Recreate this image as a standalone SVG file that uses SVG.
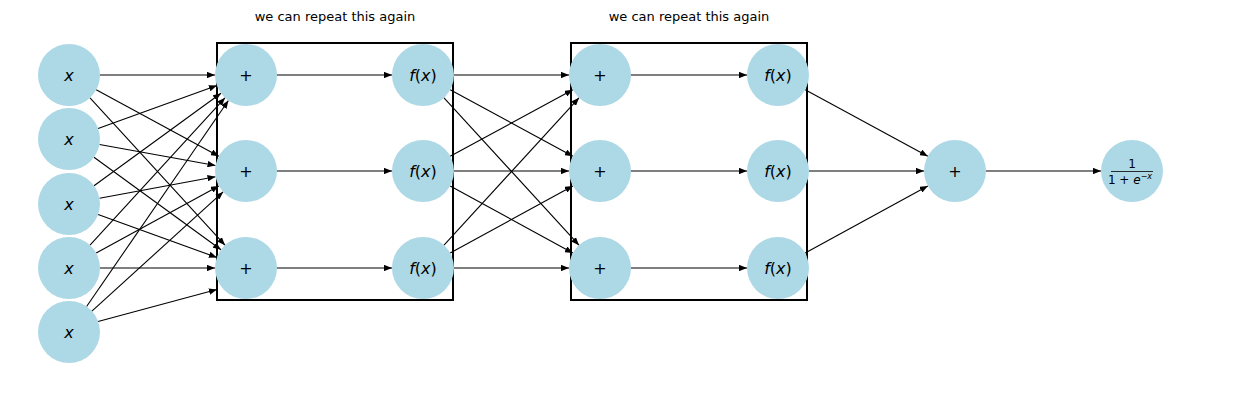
<svg xmlns="http://www.w3.org/2000/svg" width="1260" height="406" viewBox="0 0 1260 406">
<style>
.n{fill:#add8e6}
.t{font-family:"DejaVu Sans",sans-serif;font-size:16px;text-anchor:middle;fill:#000}
.i{font-style:italic}
.b{fill:none;stroke:#000;stroke-width:2}
.l{font-family:"DejaVu Sans",sans-serif;font-size:13px;text-anchor:middle}
#edges line{stroke:#000;stroke-width:1.1;marker-end:url(#a)}
</style>
<defs><marker id="a" viewBox="0 0 10 8" refX="10" refY="4" markerWidth="8" markerHeight="6.4" markerUnits="userSpaceOnUse" orient="auto"><path d="M0,0L10,4L0,8z"/></marker></defs>
<rect width="1260" height="406" fill="#fff"/>
<rect class="b" x="217" y="43" width="236" height="257"/>
<rect class="b" x="571" y="43" width="236" height="257"/>
<text class="l" x="335" y="21">we can repeat this again</text>
<text class="l" x="689" y="21">we can repeat this again</text>
<g id="edges">
<line x1="100" y1="75" x2="215" y2="75"/>
<line x1="96.2" y1="89.8" x2="218.8" y2="156.2"/>
<line x1="90" y1="97.8" x2="225" y2="245.2"/>
<line x1="98.1" y1="128.5" x2="216.9" y2="85.5"/>
<line x1="99.5" y1="144.5" x2="215.5" y2="165.5"/>
<line x1="94" y1="157.3" x2="221" y2="249.7"/>
<line x1="94" y1="185.7" x2="221" y2="93.3"/>
<line x1="99.5" y1="198.3" x2="215.5" y2="176.7"/>
<line x1="98.1" y1="214.5" x2="216.9" y2="257.5"/>
<line x1="90" y1="245.2" x2="225" y2="97.8"/>
<line x1="96.2" y1="253.1" x2="218.8" y2="185.9"/>
<line x1="100" y1="268" x2="215" y2="268"/>
<line x1="86.6" y1="306.5" x2="228.4" y2="100.5"/>
<line x1="91.9" y1="311.1" x2="223.1" y2="191.9"/>
<line x1="98.1" y1="321.5" x2="216.9" y2="289.5"/>
<line x1="277" y1="75" x2="392" y2="75"/>
<line x1="277" y1="171" x2="392" y2="171"/>
<line x1="277" y1="268" x2="392" y2="268"/>
<line x1="454" y1="75" x2="569" y2="75"/>
<line x1="450.2" y1="89.8" x2="572.8" y2="156.2"/>
<line x1="444" y1="97.8" x2="579" y2="245.2"/>
<line x1="450.2" y1="156.2" x2="572.8" y2="89.8"/>
<line x1="454" y1="171" x2="569" y2="171"/>
<line x1="450.2" y1="185.9" x2="572.8" y2="253.1"/>
<line x1="444" y1="245.2" x2="579" y2="97.8"/>
<line x1="450.2" y1="253.1" x2="572.8" y2="185.9"/>
<line x1="454" y1="268" x2="569" y2="268"/>
<line x1="631" y1="75" x2="747" y2="75"/>
<line x1="631" y1="171" x2="747" y2="171"/>
<line x1="631" y1="268" x2="747" y2="268"/>
<line x1="805.2" y1="89.8" x2="927.8" y2="156.2"/>
<line x1="809" y1="171" x2="924" y2="171"/>
<line x1="805.2" y1="253.1" x2="927.8" y2="185.9"/>
<line x1="986" y1="171" x2="1101" y2="171"/>
</g>
<g id="x1"><circle class="n" cx="69" cy="75" r="31"/><text class="t i" x="69" y="81">x</text></g>
<g id="x2"><circle class="n" cx="69" cy="139" r="31"/><text class="t i" x="69" y="145">x</text></g>
<g id="x3"><circle class="n" cx="69" cy="204" r="31"/><text class="t i" x="69" y="210">x</text></g>
<g id="x4"><circle class="n" cx="69" cy="268" r="31"/><text class="t i" x="69" y="274">x</text></g>
<g id="x5"><circle class="n" cx="69" cy="332" r="31"/><text class="t i" x="69" y="338">x</text></g>
<g id="p1"><circle class="n" cx="246" cy="75" r="31"/><text class="t" x="246" y="81">+</text></g>
<g id="p2"><circle class="n" cx="246" cy="171" r="31"/><text class="t" x="246" y="177">+</text></g>
<g id="p3"><circle class="n" cx="246" cy="268" r="31"/><text class="t" x="246" y="274">+</text></g>
<g id="f1"><circle class="n" cx="423" cy="75" r="31"/><text class="t" x="423" y="81"><tspan class="i">f</tspan>(<tspan class="i">x</tspan>)</text></g>
<g id="f2"><circle class="n" cx="423" cy="171" r="31"/><text class="t" x="423" y="177"><tspan class="i">f</tspan>(<tspan class="i">x</tspan>)</text></g>
<g id="f3"><circle class="n" cx="423" cy="268" r="31"/><text class="t" x="423" y="274"><tspan class="i">f</tspan>(<tspan class="i">x</tspan>)</text></g>
<g id="q1"><circle class="n" cx="600" cy="75" r="31"/><text class="t" x="600" y="81">+</text></g>
<g id="q2"><circle class="n" cx="600" cy="171" r="31"/><text class="t" x="600" y="177">+</text></g>
<g id="q3"><circle class="n" cx="600" cy="268" r="31"/><text class="t" x="600" y="274">+</text></g>
<g id="g1"><circle class="n" cx="778" cy="75" r="31"/><text class="t" x="778" y="81"><tspan class="i">f</tspan>(<tspan class="i">x</tspan>)</text></g>
<g id="g2"><circle class="n" cx="778" cy="171" r="31"/><text class="t" x="778" y="177"><tspan class="i">f</tspan>(<tspan class="i">x</tspan>)</text></g>
<g id="g3"><circle class="n" cx="778" cy="268" r="31"/><text class="t" x="778" y="274"><tspan class="i">f</tspan>(<tspan class="i">x</tspan>)</text></g>
<g id="s"><circle class="n" cx="955" cy="171" r="31"/><text class="t" x="955" y="177">+</text></g>
<g id="sig"><circle class="n" cx="1132" cy="171" r="31"/>
<text class="t" style="font-size:12px" x="1132" y="168">1</text>
<line x1="1111" y1="171.5" x2="1153" y2="171.5" stroke="#000" stroke-width="0.8"/>
<text class="t" style="font-size:12px" x="1130" y="184">1 + <tspan class="i">e</tspan><tspan dy="-5" style="font-size:8px">−<tspan class="i">x</tspan></tspan></text></g>
</svg>
